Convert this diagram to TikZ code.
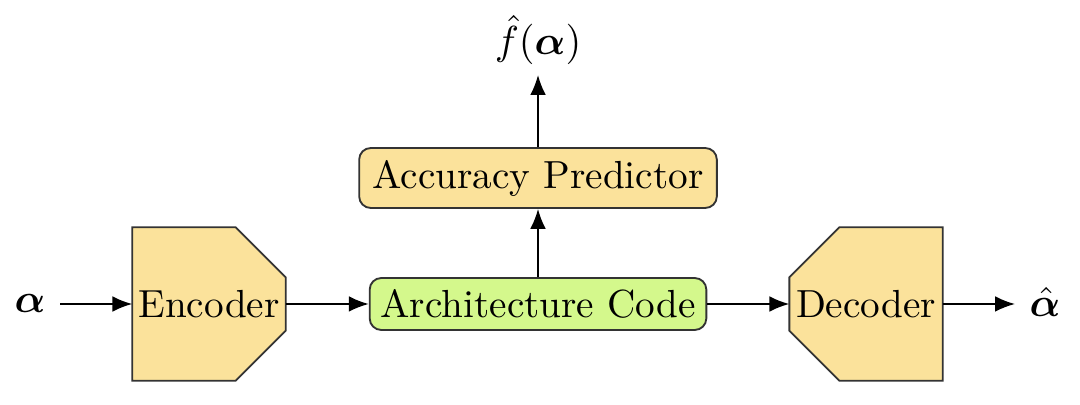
\documentclass[tikz,border=0pt]{standalone}
\usepackage{bm}
\usetikzlibrary{arrows.meta,calc}
\definecolor{boxyellow}{RGB}{251,226,155}
\definecolor{boxgreen}{RGB}{212,248,140}
\tikzset{
  conn/.style={-{Latex[length=0.19cm,width=0.15cm]},line width=0.5pt},
  textonly/.style={inner sep=0pt,draw=none},
  codec/.style={inner sep=0pt,minimum width=1.444cm,minimum height=1.444cm,draw=none},
  codecshape/.style={fill=boxyellow,draw=black!80,line width=0.5pt},
  roundbox/.style={draw=black!80,line width=0.5pt,rounded corners=0.11cm,inner sep=0pt},
}
\begin{document}
\begin{tikzpicture}[x=0.0095cm,y=-0.0095cm,font=\fontsize{10.6}{13}\selectfont]
\useasboundingbox (0,0) rectangle (1080,405);
% encoder
\node[codec] (enc) at (209,304) {};
\draw[codecshape] (enc.north west) -- ($(enc.north east)+(-50,0)$) -- ($(enc.north east)+(0,50)$)
  -- ($(enc.south east)+(0,-50)$) -- ($(enc.south east)+(-50,0)$) -- (enc.south west) -- cycle;
\node[textonly] (enct) at (enc.center) {Encoder};
% decoder
\node[codec] (dec) at (866,304) {};
\draw[codecshape] ($(dec.north west)+(50,0)$) -- (dec.north east) -- (dec.south east)
  -- ($(dec.south west)+(50,0)$) -- ($(dec.south west)+(0,-50)$) -- ($(dec.north west)+(0,50)$) -- cycle;
\node[textonly] (dect) at (dec.center) {Decoder};
% architecture code
\node[roundbox,fill=boxgreen,minimum width=3.2cm,minimum height=0.494cm] (arch) at (538,304) {Architecture Code};
% accuracy predictor
\node[roundbox,fill=boxyellow,minimum width=3.40cm,minimum height=0.57cm] (pred) at (538,178) {Accuracy Predictor};
% labels
\node[textonly] (alpha) at (30,304) {$\bm{\alpha}$};
\node[textonly] (alphahat) at (1045,302) {$\hat{\bm{\alpha}}$};
\node[textonly] (fhat) at (538,40) {$\hat{f}(\bm{\alpha})$};
\coordinate (ain) at (60,304);
\coordinate (aout) at (1015,304);
\coordinate (fin) at (538,75);
% connectors
\draw[conn] (ain) -- (enc.west);
\draw[conn] (enc.east) -- (arch.west);
\draw[conn] (arch.east) -- (dec.west);
\draw[conn] (dec.east) -- (aout);
\draw[conn] (arch.north) -- (pred.south);
\draw[conn] (pred.north) -- (fin);
\end{tikzpicture}
\end{document}
